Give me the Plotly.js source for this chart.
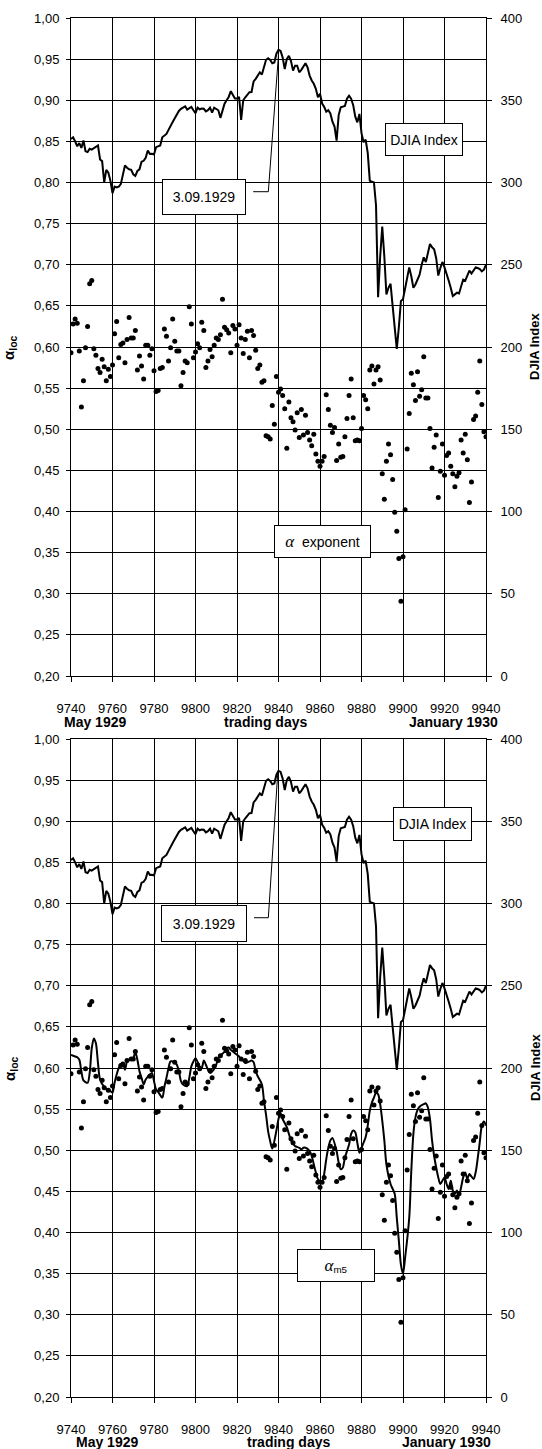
<!DOCTYPE html>
<html><head><meta charset="utf-8">
<script src="https://cdn.plot.ly/plotly-3.0.1.min.js"></script>
<style>html,body{margin:0;padding:0;background:#fff}#chart{width:542px;height:1449px}</style>
</head><body><div id="chart"></div>
<script>
// ---------------- data ----------------
const firstDay = 9740;           // trading day of the first observation
// DJIA Index, one value per trading day 9740 ... 9940
const djia = [
326.5,327.5,325,322,324,321,325.5,319,318.5,320.5,
320,321,322,322.5,314,313,300,307.7,306,301,
293.5,297.5,297,297.5,299,304,310.3,309,308,307.7,
305,304,307,308,312.6,313.2,315,319.4,317.4,317.5,
317,321.5,322,322.5,327.5,328.5,329.5,332,334,336.8,
339,341.7,343.5,344.8,345.5,346.3,344.3,345,345.9,343.9,
342.2,345.5,344.5,345,344.8,343.2,344,345.5,342.5,345.5,
344.5,343.9,339.3,344,347.9,350,352,355.5,353,351,
351,352,338,350,351.8,353.5,354.9,355,361.4,363,
365,367,365.6,370,374.6,375.5,374.5,372.5,373,378.3,
380.7,380,376,369,375,377,374,368,371,371,
367,368.5,371,372.5,370,365,362,360,357,351.8,
354,348,346,343,344,342,337,334,325.5,341,
345.7,346,346.5,351,352.8,351,347,340,336.6,341.7,
330,324.5,326,318,301,300.5,300,286,230.2,255,
273.2,255,232,236,238.4,225,210,198.8,212,228,
229,235,242,248.4,243,236,238,241,244,250,
254.5,251.6,258,262.6,260.6,259.4,254,243.4,248,251.7,
248.4,245,240.4,236,231,232,233,232.5,237,241,
240.4,243,246.4,244.7,247,248.4,248,247.4,246,247,
250
];
// local alpha exponent (dots), one value per trading day 9740 ... 9940
const alphaLoc = [
0.593,0.628,0.634,0.629,0.595,0.527,0.559,0.599,0.625,0.677,
0.681,0.598,0.590,0.574,0.569,0.585,0.576,0.559,0.573,0.564,
0.578,0.616,0.631,0.587,0.603,0.605,0.581,0.609,0.636,0.611,
0.611,0.620,0.572,0.589,0.577,0.561,0.602,0.602,0.590,0.598,
0.571,0.546,0.547,0.574,0.575,0.622,0.613,0.583,0.599,0.634,
0.607,0.595,0.595,0.553,0.569,0.583,0.581,0.649,0.628,0.587,
0.594,0.604,0.599,0.630,0.620,0.575,0.583,0.597,0.588,0.602,
0.611,0.609,0.615,0.658,0.624,0.621,0.617,0.593,0.626,0.622,
0.602,0.627,0.611,0.592,0.609,0.619,0.587,0.620,0.614,0.596,
0.574,0.578,0.557,0.559,0.492,0.491,0.488,0.529,0.506,0.564,
0.545,0.549,0.541,0.525,0.477,0.533,0.514,0.509,0.499,0.520,
0.490,0.524,0.493,0.517,0.496,0.487,0.480,0.494,0.470,0.461,
0.455,0.461,0.467,0.542,0.524,0.505,0.496,0.502,0.462,0.482,
0.466,0.467,0.491,0.513,0.541,0.561,0.514,0.486,0.487,0.486,
0.501,0.541,0.536,0.525,0.572,0.577,0.555,0.572,0.576,0.560,
0.446,0.415,0.461,0.482,0.469,0.439,0.399,0.376,0.343,0.291,
0.345,0.402,0.476,0.519,0.568,0.554,0.535,0.570,0.540,0.548,
0.588,0.538,0.538,0.501,0.453,0.478,0.493,0.417,0.449,0.482,
0.444,0.468,0.471,0.455,0.446,0.430,0.443,0.447,0.487,0.471,
0.494,0.463,0.411,0.436,0.512,0.516,0.545,0.583,0.530,0.497,
0.491
];
// smoothed alpha_m5 line (bottom panel)
const m5Days = [
9740,9742,9743,9744,9745,9746,9748,9749,9750,9751,
9752,9753,9754,9756,9757,9758,9759,9760,9761,9762,
9763,9764,9765,9766,9767,9768,9770,9771,9772,9773,
9774,9775,9776,9778,9779,9780,9781,9782,9784,9785,
9786,9787,9788,9790,9791,9792,9793,9794,9796,9797,
9798,9799,9800,9802,9803,9804,9805,9806,9807,9809,
9810,9811,9812,9814,9815,9816,9817,9818,9820,9821,
9822,9823,9824,9826,9827,9828,9829,9830,9832,9833,
9834,9835,9836,9837,9839,9840,9841,9842,9844,9845,
9846,9847,9848,9850,9851,9852,9853,9855,9856,9857,
9858,9859,9861,9862,9863,9864,9865,9866,9868,9869,
9870,9871,9872,9874,9875,9876,9877,9878,9879,9880,
9882,9883,9884,9885,9886,9887,9888,9889,9890,9891,
9892,9894,9895,9896,9897,9898,9899,9900,9901,9903,
9904,9905,9906,9907,9908,9910,9911,9912,9913,9914,
9915,9916,9917,9918,9920,9921,9922,9923,9924,9925,
9926,9927,9928,9929,9930,9931,9932,9934,9935,9936,
9937,9938,9939,9940
];
const alphaM5 = [
0.616,0.614,0.613,0.610,0.596,0.585,0.582,0.594,0.624,0.636,
0.630,0.606,0.586,0.577,0.575,0.574,0.572,0.570,0.582,0.592,
0.600,0.604,0.606,0.598,0.608,0.610,0.612,0.619,0.610,0.596,
0.588,0.580,0.586,0.592,0.594,0.584,0.574,0.571,0.564,0.577,
0.588,0.600,0.608,0.607,0.604,0.596,0.584,0.580,0.578,0.588,
0.602,0.608,0.612,0.602,0.600,0.609,0.604,0.598,0.594,0.599,
0.604,0.612,0.615,0.620,0.624,0.625,0.622,0.620,0.616,0.614,
0.610,0.609,0.606,0.608,0.609,0.607,0.596,0.590,0.580,0.560,
0.543,0.523,0.511,0.502,0.524,0.538,0.545,0.538,0.528,0.520,
0.512,0.508,0.505,0.503,0.501,0.503,0.503,0.499,0.493,0.483,
0.473,0.465,0.461,0.471,0.489,0.503,0.512,0.515,0.499,0.485,
0.477,0.479,0.491,0.507,0.520,0.524,0.522,0.509,0.497,0.503,
0.516,0.530,0.548,0.558,0.564,0.570,0.568,0.556,0.536,0.512,
0.483,0.459,0.453,0.447,0.418,0.390,0.361,0.350,0.369,0.418,
0.475,0.520,0.540,0.549,0.553,0.556,0.557,0.552,0.538,0.512,
0.493,0.479,0.467,0.459,0.467,0.459,0.453,0.463,0.451,0.447,
0.451,0.445,0.455,0.467,0.473,0.465,0.471,0.465,0.473,0.490,
0.510,0.530,0.535,0.530
];
const bottomLabels = ["May 1929", "trading days", "January 1930"];
const dateLabel = "3.09.1929";
const djiaLabel = "DJIA Index";

// ---------------- chart ----------------
const days = djia.map((_, i) => firstDay + i);
const FONT = "Liberation Sans, Arial, Helvetica, sans-serif";
const W = 542, H = 1449, ML = 71, MR = 56, MT = 18, MB = 52;
const PW = W - ML - MR, PH = H - MT - MB;
const px2x = p => (p - ML) / PW;
const py2y = p => (H - MB - p) / PH;
const topDom = [py2y(676), 1];
const botDom = [0, py2y(739)];

const xBase = {
  range: [9740, 9940], tick0: 9740, dtick: 20, tickformat: 'd', ticks: 'outside', ticklen: 5,
  tickcolor: '#000', tickwidth: 1, showgrid: true, gridcolor: '#000', gridwidth: 1,
  showline: true, linecolor: '#000', linewidth: 1, mirror: true, zeroline: false,
  tickfont: {size: 13, color: '#000', family: FONT}, ticklabelstandoff: 15, fixedrange: true
};
const yLeft = {
  range: [0.2, 1.0], tick0: 0.2, dtick: 0.05, tickformat: '.2f', ticks: 'outside', ticklen: 4,
  tickcolor: '#000', showgrid: true, gridcolor: '#000', gridwidth: 1, showline: true,
  linecolor: '#000', linewidth: 1, zeroline: false,
  tickfont: {size: 13, color: '#000', family: FONT}, ticklabelstandoff: 4, fixedrange: true
};
const yRight = {
  range: [0, 400], tick0: 0, dtick: 50, tickformat: 'd', ticks: 'outside', ticklen: 5, tickcolor: '#000',
  showgrid: false, showline: true, linecolor: '#000', linewidth: 1, zeroline: false, side: 'right',
  tickfont: {size: 13, color: '#000', family: FONT}, ticklabelstandoff: 6, fixedrange: true
};

const traces = [
  {x: days, y: alphaLoc, xaxis: 'x', yaxis: 'y', mode: 'markers', marker: {size: 5, color: '#000'}, hoverinfo: 'skip'},
  {x: days, y: djia, xaxis: 'x', yaxis: 'y2', mode: 'lines', line: {color: '#000', width: 2}, hoverinfo: 'skip'},
  {x: days, y: alphaLoc, xaxis: 'x2', yaxis: 'y3', mode: 'markers', marker: {size: 5, color: '#000'}, hoverinfo: 'skip'},
  {x: m5Days, y: alphaM5, xaxis: 'x2', yaxis: 'y3', mode: 'lines', line: {color: '#000', width: 2, shape: 'spline', smoothing: 0.8}, hoverinfo: 'skip'},
  {x: days, y: djia, xaxis: 'x2', yaxis: 'y4', mode: 'lines', line: {color: '#000', width: 2}, hoverinfo: 'skip'}
];

function box(xref, yref, x, y, text, w, h) {
  return {xref, yref, x, y, text, showarrow: false, bgcolor: '#fff', bordercolor: '#000',
    borderwidth: 1, borderpad: 0, width: w, height: h, align: 'center', valign: 'middle',
    font: {size: 14, color: '#000', family: FONT}};
}
function paperText(x, y, text, size, angle) {
  return {xref: 'paper', yref: 'paper', x, y, text, showarrow: false, textangle: angle || 0,
    xanchor: 'center', yanchor: 'middle', font: {size: size, color: '#000', family: FONT}};
}
const alphaSym = "<span style=\"font-family:'Liberation Serif';font-style:italic;font-size:17px\">α</span>";
const annotations = [
  box('x', 'y', 9910.3, 0.8525, djiaLabel, 76, 31),
  box('x', 'y', 9803.9, 0.7824, dateLabel, 82, 34),
  box('x', 'y', 9861.1, 0.3635, alphaSym + '  exponent', 95, 31),
  box('x2', 'y3', 9914.1, 0.8967, djiaLabel, 77, 32),
  box('x2', 'y3', 9803.9, 0.7757, dateLabel, 84, 35),
  box('x2', 'y3', 9867.9, 0.3593, alphaSym + "<sub>m5</sub>", 76, 31),
  paperText(px2x(10), (topDom[0] + topDom[1]) / 2, '<b>α<sub>loc</sub></b>', 15, -90),
  paperText(px2x(535), (topDom[0] + topDom[1]) / 2, '<b>' + djiaLabel + '</b>', 13, -90),
  paperText(px2x(10), (botDom[0] + botDom[1]) / 2, '<b>α<sub>loc</sub></b>', 15, -90),
  paperText(px2x(535), (botDom[0] + botDom[1]) / 2, '<b>' + djiaLabel + '</b>', 13, -90),
  paperText(px2x(94.6), py2y(722), '<b>' + bottomLabels[0] + '</b>', 14),
  paperText(px2x(265.6), py2y(722), '<b>' + bottomLabels[1] + '</b>', 14),
  paperText(px2x(453.5), py2y(722), '<b>' + bottomLabels[2] + '</b>', 14),
  paperText(px2x(106.8), py2y(1442), '<b>' + bottomLabels[0] + '</b>', 14),
  paperText(px2x(288.5), py2y(1442), '<b>' + bottomLabels[1] + '</b>', 14),
  paperText(px2x(446), py2y(1442), '<b>' + bottomLabels[2] + '</b>', 14)
];
const shapes = [
  {type: 'path', xref: 'x', yref: 'y', path: 'M 9827.8,0.7888 L 9835.1,0.7888 L 9840.2,0.9623', line: {color: '#000', width: 1}},
  {type: 'path', xref: 'x2', yref: 'y3', path: 'M 9828.2,0.7827 L 9835.1,0.7827 L 9839.7,0.961', line: {color: '#000', width: 1}}
];

const layout = {
  width: W, height: H, margin: {l: ML, r: MR, t: MT, b: MB, autoexpand: false},
  paper_bgcolor: '#fff', plot_bgcolor: '#fff', showlegend: false, separators: ',.',
  font: {family: FONT, size: 13, color: '#000'},
  xaxis: Object.assign({}, xBase, {anchor: 'y', domain: [0, 1]}),
  yaxis: Object.assign({}, yLeft, {anchor: 'x', domain: topDom}),
  yaxis2: Object.assign({}, yRight, {anchor: 'x', overlaying: 'y'}),
  xaxis2: Object.assign({}, xBase, {anchor: 'y3', domain: [0, 1]}),
  yaxis3: Object.assign({}, yLeft, {anchor: 'x2', domain: botDom}),
  yaxis4: Object.assign({}, yRight, {anchor: 'x2', overlaying: 'y3'}),
  annotations, shapes
};
Plotly.newPlot('chart', traces, layout, {staticPlot: true, displayModeBar: false});
</script>
</body></html>
